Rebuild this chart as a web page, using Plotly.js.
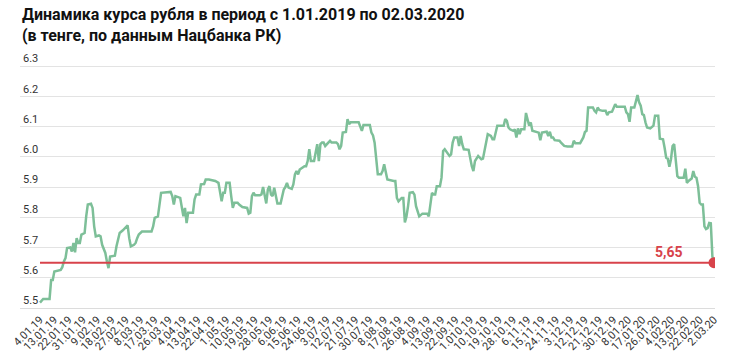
<!DOCTYPE html>
<html>
<head>
<meta charset="utf-8">
<script src="https://cdn.plot.ly/plotly-3.0.1.min.js"></script>
<style>
html,body{margin:0;padding:0;background:#fff;}
#chart{width:730px;height:358px;}
</style>
</head>
<body>
<div id="chart"></div>
<script>
// Day offsets from 4.01.2019
const days = [0,2,6,7,8,9,13,14,15,16,17,19,20,21,22,23,24,25,26,28,29,30,32,33,34,35,37,38,39,41,42,43,44,47,48,49,50,52,54,55,56,57,59,60,61,62,64,70,71,72,74,75,76,82,83,84,85,88,89,90,91,92,93,96,97,98,100,101,103,104,106,
110,112,113,114,115,116,117,119,120,121,122,124,125,127,130,131,132,133,134,135,138,139,140,141,142,143,144,145,146,147,148,149,151,152,153,154,155,156,158,159,160,161,162,163,165,166,167,168,169,170,172,173,174,175,176,177,178,179,181,182,183,186,187,188,189,190,192,193,194,195,200,201,202,203,207,208,209,210,211,212,214,215,216,217,218,222,223,224,225,
227,228,229,230,231,232,234,235,236,237,238,240,243,244,245,246,247,248,249,251,252,253,254,256,257,258,259,260,262,263,264,265,266,269,270,271,272,273,275,277,278,279,280,281,283,284,285,286,287,291,292,293,294,295,297,298,299,300,301,302,304,305,306,307,308,309,313,314,315,318,319,320,321,322,323,324,326,327,329,331,334,335,336,339,341,342,343,344,347,348,349,350,351,353,355,356,357,359,361,362,367,368,369,370,371,373,374,375,376,377,378,379,380,381,383,385,386,388,389,391,392,393,394,395,396,397,398,399,400,401,404,405,406,407,409,410,411,412,413,414,415,416,417,418,419,420,421,422,423];
const rate = [5.518,5.53,5.53,5.593,5.593,5.621,5.626,5.635,5.654,5.665,5.698,5.70,5.687,5.715,5.684,5.731,5.715,5.715,5.743,5.748,5.803,5.842,5.845,5.831,5.77,5.737,5.74,5.737,5.709,5.682,5.654,5.632,5.67,5.673,5.704,5.726,5.748,5.757,5.77,5.773,5.731,5.704,5.709,5.715,5.731,5.743,5.753,5.753,5.77,5.798,5.803,5.842,5.881,5.884,5.87,5.842,5.87,5.864,5.837,5.803,5.831,5.781,5.815,5.815,5.859,5.875,5.875,5.909,5.91,5.925,5.925,
5.92,5.914,5.886,5.853,5.881,5.881,5.914,5.914,5.87,5.831,5.848,5.848,5.842,5.834,5.831,5.812,5.815,5.87,5.881,5.873,5.873,5.876,5.90,5.87,5.846,5.892,5.903,5.875,5.87,5.898,5.875,5.846,5.846,5.87,5.892,5.90,5.914,5.898,5.894,5.909,5.942,5.953,5.942,5.958,5.964,5.969,5.969,5.986,6.025,5.986,5.986,6.019,6.042,5.986,6.042,6.047,6.047,6.036,6.047,6.053,6.047,6.047,6.042,6.025,6.036,6.08,6.082,6.125,6.108,6.114,6.114,6.097,6.086,6.105,6.105,6.08,6.071,6.047,6.003,5.942,5.942,5.953,5.975,5.953,5.925,5.92,5.92,5.864,5.853,
5.864,5.864,5.783,5.803,5.837,5.881,5.883,5.875,5.837,5.82,5.803,5.812,5.812,5.803,5.837,5.881,5.875,5.875,5.903,5.903,5.931,6.019,6.025,6.008,6.003,6.008,6.047,6.064,6.064,6.036,6.069,6.042,6.025,6.023,5.992,5.969,5.953,5.986,6.003,5.992,5.994,6.019,6.042,6.075,6.069,6.058,6.058,6.08,6.103,6.103,6.125,6.119,6.097,6.091,6.086,6.091,6.064,6.094,6.075,6.091,6.091,6.145,6.127,6.103,6.114,6.086,6.08,6.055,6.08,6.083,6.069,6.083,6.064,6.064,6.055,6.055,6.053,6.047,6.036,6.034,6.034,6.053,6.045,6.045,6.064,6.082,6.086,6.163,6.163,6.152,6.147,6.163,6.155,6.152,6.152,6.138,6.147,6.149,6.174,6.166,6.166,6.147,6.141,6.116,6.163,6.163,6.18,6.204,6.18,6.169,6.141,6.138,6.114,6.097,6.094,6.103,6.136,6.136,6.06,6.058,6.03,5.997,5.994,5.967,5.992,6.036,6.042,5.992,5.936,5.931,5.931,5.961,5.914,5.92,5.928,5.953,5.934,5.931,5.903,5.848,5.842,5.842,5.77,5.761,5.764,5.781,5.78,5.67,5.65];
const tickLabels = ["4.01.19","13.01.19","22.01.19","31.01.19","9.02.19","18.02.19","27.02.19","8.03.19","17.03.19","26.03.19","4.04.19","13.04.19","22.04.19","1.05.19","10.05.19","19.05.19","28.05.19","6.06.19","15.06.19","24.06.19","3.07.19","12.07.19","21.07.19","30.07.19","8.08.19","17.08.19","26.08.19","4.09.19","13.09.19","22.09.19","1.010.19","10.10.19","19.10.19","28.10.19","6.11.19","15.11.19","24.11.19","3.12.19","12.12.19","21.12.19","30.12.19","8.01.20","17.01.20","26.01.20","4.02.20","13.02.20","22.02.20","2.03.20"];
const tickDays = [0,9,18,27,36,45,54,63,72,81,90,99,108,117,126,135,144,153,162,171,180,189,198,207,216,225,234,243,252,261,270,279,288,297,306,315,324,333,342,351,360,369,378,387,396,405,414,423];
const yTicks = [5.5,5.6,5.7,5.8,5.9,6.0,6.1,6.2,6.3];
const yTickText = ["5.5","5.6","5.7","5.8","5.9","6.0","6.1","6.2","6.3"];
const refValue = 5.65;
const refLabel = "5,65";
const titleText = "<b>Динамика курса рубля в период с 1.01.2019 по 02.03.2020</b><br><b>(в тенге, по данным Нацбанка РК)</b>";

const lastDay = days[days.length-1];
const GREEN = "#7dbf98";
const RED = "#d8434b";

const traces = [
  {x: days, y: rate, type: "scatter", mode: "lines",
   line: {color: GREEN, width: 2.5, shape: "linear"}, hoverinfo: "skip"},
  {x: [days[0], lastDay], y: [refValue, refValue], type: "scatter", mode: "lines",
   line: {color: RED, width: 2}, hoverinfo: "skip"},
  {x: [lastDay], y: [refValue], type: "scatter", mode: "markers",
   marker: {color: RED, size: 11}, hoverinfo: "skip"}
];

// plot area: top 51px, bottom at 308px (height 257)
const layout = {
  width: 730, height: 358,
  margin: {l: 20, r: 15, t: 51, b: 50},
  paper_bgcolor: "#fff", plot_bgcolor: "#fff",
  showlegend: false,
  font: {family: "Roboto, sans-serif", color: "#333"},
  xaxis: {range: [-12.55, 423.63], tickvals: tickDays, ticktext: tickLabels,
          tickangle: -45, ticks: "", showgrid: false, zeroline: false,
          showline: true, linecolor: "#dcdcdc", linewidth: 1,
          tickfont: {family: "Roboto, sans-serif", size: 11, color: "#333"}},
  yaxis: {range: [5.5, 6.35], tickvals: yTicks, ticktext: yTickText,
          ticklabelposition: "inside top", ticks: "", showgrid: true,
          gridcolor: "#e3e3e3", gridwidth: 1, zeroline: false, showline: false,
          tickfont: {family: "Roboto, sans-serif", size: 11, color: "#333"}},
  annotations: [
    {x: lastDay - 28, y: refValue, text: "<b>" + refLabel + "</b>",
     showarrow: false, yanchor: "bottom", yshift: 1,
     font: {family: "Roboto, sans-serif", size: 14, color: RED}},
    {xref: "paper", yref: "paper", x: 0, y: (308 - 3) / 257, xanchor: "left", yanchor: "top",
     align: "left", showarrow: false, text: titleText,
     font: {family: "Roboto, sans-serif", size: 16, color: "#111"}}
  ]
};

Plotly.newPlot("chart", traces, layout, {displayModeBar: false, staticPlot: true});
</script>
</body>
</html>
